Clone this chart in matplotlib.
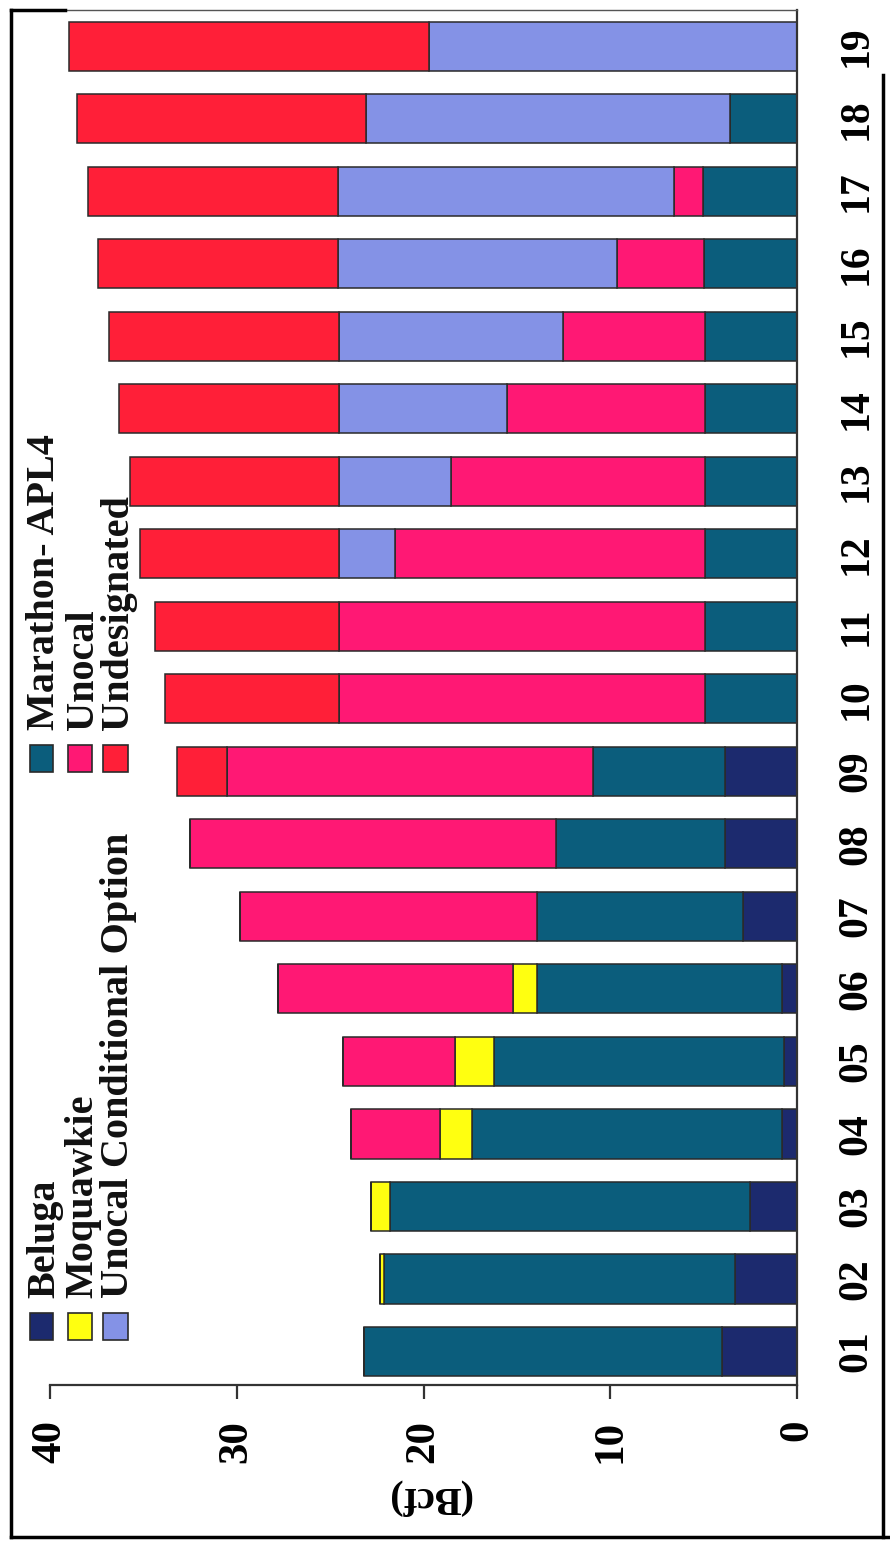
import matplotlib
matplotlib.use("Agg")
import matplotlib.pyplot as plt
from matplotlib.patches import Rectangle
from matplotlib.lines import Line2D
import numpy as np

# Gas supply by year (Bcf), stacked by source
years = ["01", "02", "03", "04", "05", "06", "07", "08", "09", "10",
         "11", "12", "13", "14", "15", "16", "17", "18", "19"]
beluga = [4.0, 3.3, 2.5, 0.8, 0.7, 0.8, 2.9, 3.85, 3.85, 0, 0, 0, 0, 0, 0, 0, 0, 0, 0]
marathon = [19.2, 18.8, 19.3, 16.6, 15.5, 13.1, 11.0, 9.05, 7.1, 4.95,
            4.95, 4.9, 4.95, 4.95, 4.95, 5.0, 5.05, 3.6, 0]
moquawkie = [0, 0.25, 1.0, 1.7, 2.1, 1.3, 0, 0, 0, 0, 0, 0, 0, 0, 0, 0, 0, 0, 0]
unocal = [0, 0, 0, 4.8, 6.0, 12.6, 15.9, 19.6, 19.55, 19.55,
          19.55, 16.65, 13.6, 10.6, 7.6, 4.65, 1.55, 0, 0]
unocal_option = [0, 0, 0, 0, 0, 0, 0, 0, 0, 0,
                 0, 2.95, 5.95, 8.95, 12.0, 14.95, 18.0, 19.5, 19.7]
undesignated = [0, 0, 0, 0, 0, 0, 0, 0, 2.7, 9.35,
                9.9, 10.7, 11.2, 11.8, 12.3, 12.85, 13.35, 15.45, 19.3]
value_ticks = [40, 30, 20, 10, 0]

series = [
    ("Beluga", beluga, "#1c2a6e"),
    ("Marathon- APL4", marathon, "#0b5d7c"),
    ("Moquawkie", moquawkie, "#ffff10"),
    ("Unocal", unocal, "#ff1874"),
    ("Unocal Conditional Option", unocal_option, "#8492e6"),
    ("Undesignated", undesignated, "#ff1f38"),
]

SERIF = ["Liberation Serif", "DejaVu Serif"]
W, H = 890, 1552
fig = plt.figure(figsize=(W / 100, H / 100), dpi=100)
fig.patch.set_facecolor("white")


def fx(px):
    return px / W


def fy(py):
    return 1 - py / H


# axes: values run right-to-left, years bottom-to-top
AX_L, AX_R, AX_T, AX_B = 50, 797, 10, 1385
ax = fig.add_axes([fx(AX_L), fy(AX_B), fx(AX_R) - fx(AX_L), fy(AX_T) - fy(AX_B)])
pos = np.arange(len(years))
left = np.zeros(len(years))
for name, vals, col in series:
    v = np.array(vals, dtype=float)
    ax.barh(pos, v, left=left, height=0.676, color=col,
            edgecolor="#2a2a2a", linewidth=1.1, zorder=2)
    left += v

ax.set_xlim(40, 0)
ax.set_ylim(-0.462, 18.503)

ax.spines["left"].set_visible(False)
ax.spines["top"].set_color("#555555")
ax.spines["top"].set_linewidth(1.0)
ax.spines["bottom"].set_color("#333333")
ax.spines["bottom"].set_linewidth(1.6)
ax.spines["right"].set_color("#333333")
ax.spines["right"].set_linewidth(1.6)

ax.set_xticks(value_ticks)
ax.set_xticklabels([str(t) for t in value_ticks], rotation=90,
                   fontfamily=SERIF, fontweight="bold", fontsize=31)
ax.tick_params(axis="x", direction="out", length=10, width=1.6,
               color="#333333", pad=15)

ax.yaxis.tick_right()
ax.set_yticks(pos)
ax.set_yticklabels(years, rotation=90, fontfamily=SERIF,
                   fontweight="bold", fontsize=30)
for lbl in ax.get_yticklabels():
    lbl.set_ha("center")
    lbl.set_va("center")
ax.tick_params(axis="y", length=0, pad=43)

# unit label, printed upside down under the value axis
ax.set_xlabel("(Bcf)", rotation=180, fontfamily=SERIF, fontweight="bold",
              fontsize=29, va="center", ha="center")
ax.xaxis.set_label_coords((429 - AX_L) / (AX_R - AX_L),
                          (AX_B - 1497) / (AX_B - AX_T))

# legend drawn in two rotated groups of three entries
legend_groups = [
    (1313, 1340, 1298, [0, 2, 4]),
    (745, 772, 730, [1, 3, 5]),
]
col_x = [(30, 53), (68, 92), (103, 128)]
for y0, y1, ytext, idxs in legend_groups:
    for (xa, xb), i in zip(col_x, idxs):
        name, _, col = series[i]
        fig.add_artist(Rectangle((fx(xa), fy(y1)), fx(xb) - fx(xa),
                                 fy(y0) - fy(y1), facecolor=col,
                                 edgecolor="#2a2a2a", linewidth=1.2,
                                 transform=fig.transFigure))
        fig.text(fx((xa + xb) / 2 + 3), fy(ytext), name, rotation=90,
                 ha="center", va="bottom", fontfamily=SERIF,
                 fontweight="bold", fontsize=29, color="#111111")

# outer frame
frame_kw = dict(color="black", linewidth=2.5, transform=fig.transFigure)
fig.add_artist(Line2D([fx(11), fx(11)], [fy(10), fy(1537)], **frame_kw))
fig.add_artist(Line2D([fx(11), fx(890)], [fy(1537), fy(1537)], **frame_kw))
fig.add_artist(Line2D([fx(11), fx(65)], [fy(10), fy(10)], **frame_kw))
fig.add_artist(Line2D([fx(883), fx(883)], [fy(75), fy(1537)], **frame_kw))

fig.savefig("out.png", dpi=100, facecolor="white")
